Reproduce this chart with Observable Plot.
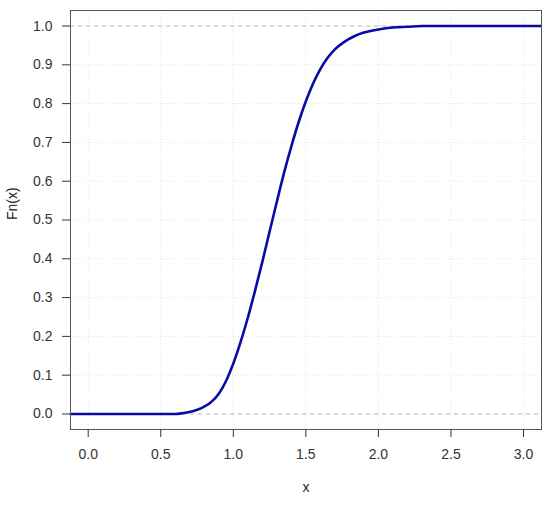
<!DOCTYPE html>
<html>
<head>
<meta charset="utf-8">
<script src="https://cdn.jsdelivr.net/npm/d3@7"></script>
<script src="https://cdn.jsdelivr.net/npm/@observablehq/plot@0.6"></script>
<style>
  html, body { margin: 0; padding: 0; background: white; }
</style>
</head>
<body>
<div id="chart"></div>
<script>
const xValues = [-0.12, 0.60, 0.65, 0.72, 0.78, 0.84, 0.90, 0.95, 1.00, 1.05, 1.10, 1.15, 1.20, 1.25, 1.30, 1.35, 1.40, 1.45, 1.50, 1.55, 1.60, 1.65, 1.70, 1.76, 1.83, 1.90, 2.00, 2.10, 2.20, 2.30, 3.12];
const fnValues = [0, 0, 0.002, 0.007, 0.015, 0.028, 0.052, 0.085, 0.130, 0.185, 0.248, 0.318, 0.392, 0.470, 0.547, 0.622, 0.690, 0.752, 0.806, 0.852, 0.889, 0.918, 0.940, 0.958, 0.973, 0.983, 0.991, 0.996, 0.998, 1.0, 1.0];
const xTicks = [0, 0.5, 1.0, 1.5, 2.0, 2.5, 3.0];
const yTicks = [0, 0.1, 0.2, 0.3, 0.4, 0.5, 0.6, 0.7, 0.8, 0.9, 1.0];
const refLines = [0, 1];
const xLabel = "x";
const yLabel = "Fn(x)";

const data = xValues.map((x, i) => ({x, y: fnValues[i]}));

const chart = Plot.plot({
  width: 550,
  height: 506,
  marginLeft: 70,
  marginRight: 9,
  marginTop: 10,
  marginBottom: 77,
  style: {fontFamily: "'Liberation Sans', Arial, sans-serif", fontSize: "14px", background: "white", color: "#222"},
  x: {domain: [-0.122, 3.124]},
  y: {domain: [-0.04, 1.04]},
  marks: [
    Plot.gridX(xTicks, {stroke: "#e4e4e4", strokeOpacity: 1, strokeDasharray: "1,2"}),
    Plot.gridY(yTicks, {stroke: "#e4e4e4", strokeOpacity: 1, strokeDasharray: "1,2"}),
    Plot.ruleY(refLines, {stroke: "#bdbdbd", strokeDasharray: "4,4"}),
    Plot.line(data, {x: "x", y: "y", stroke: "#0a0aa6", strokeWidth: 2.6, curve: "monotone-x"}),
    Plot.frame({stroke: "#555"}),
    Plot.axisX(xTicks, {tickSize: 8, tickPadding: 12, tickFormat: d3.format(".1f"), label: null, color: "#333"}),
    Plot.axisY(yTicks, {tickSize: 8, tickPadding: 10, tickFormat: d3.format(".1f"), label: null, color: "#333"}),
    Plot.text([xLabel], {text: d => d, frameAnchor: "bottom", dy: 62, fill: "#222"}),
    Plot.text([yLabel], {text: d => d, frameAnchor: "left", dx: -58, rotate: -90, fill: "#222"})
  ]
});
document.getElementById("chart").appendChild(chart);
</script>
</body>
</html>
